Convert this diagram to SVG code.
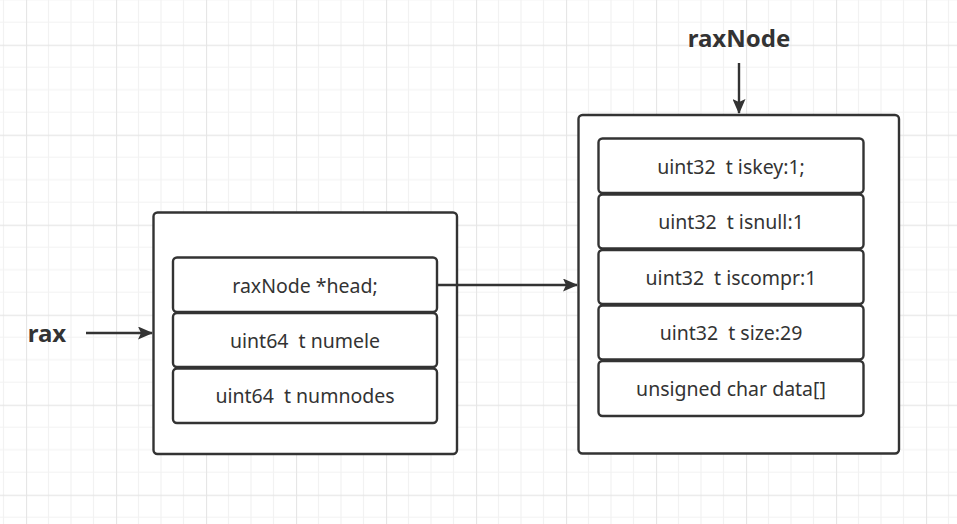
<svg xmlns="http://www.w3.org/2000/svg" width="957" height="524" viewBox="0 0 957 524">
<defs>
<pattern id="grid" patternUnits="userSpaceOnUse" x="26" y="44.7" width="90" height="90">
<path d="M22.5 0V90M45 0V90M67.5 0V90M0 22.5H90M0 45H90M0 67.5H90" stroke="#f2f2f2" stroke-width="1.2" fill="none"/>
<path d="M0.5 0V90M0 0.5H90" stroke="#e6e6e6" stroke-width="1.3" fill="none"/>
</pattern>
<marker id="arrow" viewBox="0 0 15 13" refX="14" refY="6.5" markerWidth="15" markerHeight="13" markerUnits="userSpaceOnUse" orient="auto">
<path d="M0 0L15 6.5L0 13L3 6.5Z" fill="#333333"/>
</marker>
<style>
.outer{fill:#ffffff;stroke:#333333;stroke-width:2.4}
.cell{fill:#ffffff;stroke:#333333;stroke-width:2.4}
.t{font-family:"Noto Sans","Open Sans","DejaVu Sans",sans-serif;font-size:19.5px;fill:#333333;text-anchor:middle}
.lbl{font-family:"Noto Sans","Open Sans","DejaVu Sans",sans-serif;font-size:24px;font-weight:bold;fill:#333333;text-anchor:middle}
.conn{stroke:#333333;stroke-width:2.4;fill:none;marker-end:url(#arrow)}
</style>
</defs>
<rect width="957" height="524" fill="#ffffff"/>
<rect width="957" height="524" fill="url(#grid)"/>

<g id="rax-struct">
<rect class="outer" x="153.5" y="212.5" width="303.5" height="241.5" rx="4"/>
</g>
<g id="rax-head">
<rect class="cell" x="173" y="257.5" width="264" height="54.5" rx="4"/>
<text class="t" x="305" y="292.5">raxNode *head;</text>
</g>
<g id="rax-numele">
<rect class="cell" x="173" y="313" width="264" height="54" rx="4"/>
<text class="t" x="305" y="347.5">uint64<tspan dx="5"> t numele</tspan></text>
</g>
<g id="rax-numnodes">
<rect class="cell" x="173" y="368.5" width="264" height="54.5" rx="4"/>
<text class="t" x="305" y="403">uint64<tspan dx="5"> t numnodes</tspan></text>
</g>

<g id="raxnode-struct">
<rect class="outer" x="578.5" y="115" width="320.5" height="338.5" rx="4"/>
</g>
<g id="raxnode-iskey">
<rect class="cell" x="598.5" y="138.5" width="265" height="54.5" rx="4"/>
<text class="t" x="731" y="174">uint32<tspan dx="5"> t iskey:1;</tspan></text>
</g>
<g id="raxnode-isnull">
<rect class="cell" x="598.5" y="194.5" width="265" height="54" rx="4"/>
<text class="t" x="731" y="229">uint32<tspan dx="5"> t isnull:1</tspan></text>
</g>
<g id="raxnode-iscompr">
<rect class="cell" x="598.5" y="250" width="265" height="54" rx="4"/>
<text class="t" x="731" y="284.5">uint32<tspan dx="5"> t iscompr:1</tspan></text>
</g>
<g id="raxnode-size">
<rect class="cell" x="598.5" y="305.5" width="265" height="54" rx="4"/>
<text class="t" x="731" y="340">uint32<tspan dx="5"> t size:29</tspan></text>
</g>
<g id="raxnode-data">
<rect class="cell" x="598.5" y="361" width="265" height="55" rx="4"/>
<text class="t" x="731" y="395.5">unsigned char data[]</text>
</g>

<g id="label-rax">
<text class="lbl" x="47" y="341.5">rax</text>
</g>
<g id="label-raxNode">
<text class="lbl" x="739" y="47">raxNode</text>
</g>

<g id="connectors">
<path class="conn" d="M86 333H152"/>
<path class="conn" d="M438 285H577"/>
<path class="conn" d="M739 63V113"/>
</g>
</svg>
